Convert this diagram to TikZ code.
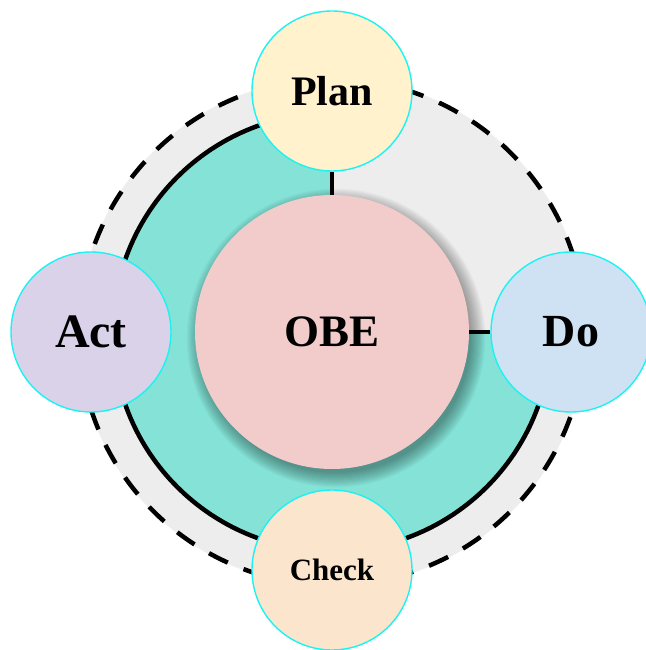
\documentclass[tikz,border=0pt]{standalone}
\usepackage{fontspec}
\setmainfont{Liberation Serif}
\definecolor{graybg}{HTML}{EDEDED}
\definecolor{tealbg}{HTML}{84E2D6}
\definecolor{obecol}{HTML}{F2CBCB}
\definecolor{plancol}{HTML}{FFF2CC}
\definecolor{actcol}{HTML}{D9D2E9}
\definecolor{docol}{HTML}{CFE2F3}
\definecolor{checkcol}{HTML}{FCE5CD}
\definecolor{rimcol}{HTML}{1CF2F2}
\begin{document}
\begin{tikzpicture}[x=1pt,y=1pt,
  dashline/.style={draw=black,line width=4.5pt,dash pattern=on 21pt off 17pt},
  ringline/.style={draw=black,line width=4.5pt},
  conn/.style={draw=black,line width=4.5pt},
  obestyle/.style={circle,fill=obecol,minimum size=274pt,inner sep=0pt,font=\bfseries\fontsize{45}{50}\selectfont},
  phase/.style={circle,draw=rimcol,line width=1.4pt,minimum size=160pt,inner sep=0pt}]
\useasboundingbox (-332,-318) rectangle (313,332);
\fill[graybg] (0,0) circle (254);
\draw[dashline] (0,0) circle (253);
\fill[tealbg] (0,0) -- (90:219) arc (90:360:219) -- cycle;
\draw[ringline] (90:219) arc (90:360:219);
\foreach \i in {0,...,13}{
  \fill[black,opacity=0.028] (4,-6) circle ({135+\i*1.1});
}
\node[obestyle] (obe) at (0,0) {OBE};
\node[phase,fill=plancol,font=\bfseries\fontsize{42}{46}\selectfont] (plan) at (0,241) {Plan};
\node[phase,fill=actcol,font=\bfseries\fontsize{48}{52}\selectfont] (act) at (-241,0) {Act};
\node[phase,fill=docol,font=\bfseries\fontsize{46}{50}\selectfont] (do) at (239,0) {Do};
\node[phase,fill=checkcol,font=\bfseries\fontsize{31}{34}\selectfont] (check) at (0,-238) {Check};
\draw[conn] (plan.south) -- (obe.north);
\draw[conn] (obe.east) -- (do.west);
\end{tikzpicture}
\end{document}
